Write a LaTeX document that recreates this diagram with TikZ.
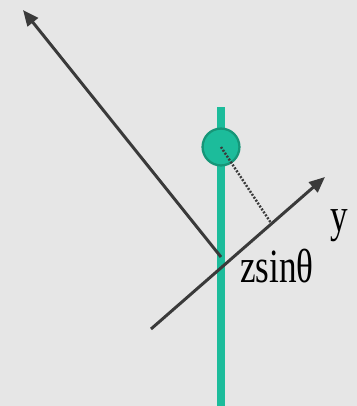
\documentclass[tikz,border=0pt]{standalone}
\usepackage{fontspec}
\usepackage{graphicx}
\setmainfont{Liberation Serif}
\usetikzlibrary{arrows.meta}
\definecolor{bgray}{RGB}{230,230,230}
\definecolor{tqgreen}{RGB}{28,188,155}
\definecolor{tqdark}{RGB}{22,150,120}
\definecolor{axgray}{RGB}{58,58,58}
\newcommand{\tallt}[1]{\scalebox{1}[1.36]{#1}}

\begin{document}
\begin{tikzpicture}[x=0.02cm,y=-0.02cm,
      ax/.style={axgray,line width=1.7pt,-{Triangle[length=9pt,width=7.5pt]}},
      rod/.style={tqgreen,line width=4.6pt},
      mass/.style={circle,draw=tqdark,line width=1.3pt,fill=tqgreen,minimum size=21pt,inner sep=0pt},
      proj/.style={axgray,line width=1.4pt,dash pattern=on 1.1pt off 0.9pt},
      lab/.style={font=\fontsize{20}{24}\selectfont,inner sep=0pt}]
      \fill[bgray] (0,0) rectangle (357,406);
      \useasboundingbox (0,0) rectangle (357,406);
      \coordinate (rodtop) at (221,107);
      \coordinate (rodbot) at (221,406);
      \coordinate (ytail) at (151,329);
      \coordinate (ytip) at (325,177);
      \coordinate (foot) at (271,223);
      \coordinate (pivot) at (221,257);
      \coordinate (ztip) at (23,10);
      \draw[rod] (rodtop)--(rodbot);
      \node[mass] (ball) at (221,147) {};
      \draw[proj] (ball.center)--(foot);
      \draw[ax] (ytail)--(ytip);
      \draw[ax] (pivot)--(ztip);
      \node[lab,anchor=base west] (ylab) at (330,231) {\tallt{y}};
      \node[lab,anchor=base west] (zlab) at (240,282) {\tallt{zsinθ}};
    \end{tikzpicture}
\end{document}
